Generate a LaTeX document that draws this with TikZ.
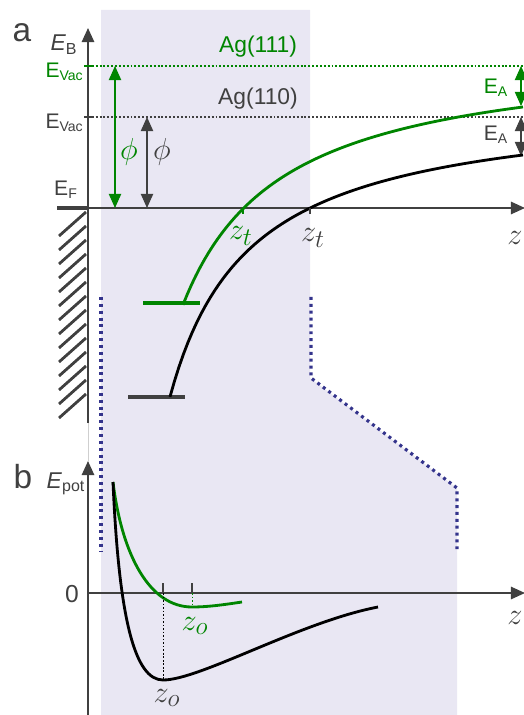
\documentclass[tikz,border=0pt]{standalone}
\usepackage{fontspec}
\setmainfont{Liberation Sans}
\setsansfont{Liberation Sans}
\usetikzlibrary{arrows.meta, positioning, calc}
\definecolor{agGreen}{RGB}{0,133,0}
\definecolor{agGrey}{RGB}{64,64,64}
\definecolor{agShade}{RGB}{233,231,243}
\definecolor{agDots}{RGB}{52,52,140}
\newcommand{\fsz}[1]{\fontsize{#1}{#1}\selectfont}

\begin{document}
\begin{tikzpicture}[x=0.02cm, y=-0.02cm, font=\sffamily,
  axis/.style={draw=agGrey, line width=1.1pt, -{Triangle[length=8pt,width=7pt]}},
  level/.style={draw=#1, line width=0.6pt, dash pattern=on 1.1pt off 1.1pt},
  dbl/.style={draw=#1, line width=0.6pt,
              {Triangle[length=8pt,width=7pt]}-{Triangle[length=8pt,width=7pt]}},
  lbl/.style={inner sep=0pt, text=#1},
  curve/.style={draw=#1, line width=1.6pt},
  bar/.style={draw=#1, line width=2.3pt},
  tick/.style={draw=#1, line width=0.8pt},
  cut/.style={draw=agDots, line width=1.8pt, dash pattern=on 1.7pt off 2.2pt}]
\useasboundingbox (0,0) rectangle (523,715);

% shaded region and cut lines
\fill[agShade] (101,10) -- (310,10) -- (310,378) -- (457,488) -- (457,715)
      -- (101,715) -- cycle;
\draw[cut] (101,297) -- (101,552);
\draw[cut] (311,297) -- (311,378) -- (457,488) -- (457,553);

% ---------- panel a ----------
\coordinate (aO)   at (88,208);
\coordinate (aTop) at (88,28);
\coordinate (aEnd) at (525,208);
\coordinate (aBot) at (88,423);
\coordinate (vacG) at (88,66);
\coordinate (vacK) at (88,117);

% metal wall
\foreach \k in {0,...,13}
  \draw[agGrey, line width=1.6pt] (59,236+14*\k) -- (86,212+14*\k);
\draw[agGrey, line width=2pt] (57,208) -- (aO);
\draw[axis] (aBot) -- (aTop);
\draw[axis] (aO) -- (aEnd);

% vacuum levels
\draw[level=agGreen] (vacG) -- (vacG -| aEnd);
\draw[level=agGrey] (vacK) -- (vacK -| aEnd);
\draw[tick=agGreen] ($(vacG)+(-4,0)$) -- ($(vacG)+(4,0)$);
\draw[tick=agGrey] ($(vacK)+(-4,0)$) -- ($(vacK)+(4,0)$);

% work functions
\coordinate (phiG) at (115,66);
\coordinate (phiK) at (147,117);
\draw[dbl=agGreen] (phiG) -- (phiG |- aO);
\draw[dbl=agGrey] (phiK) -- (phiK |- aO);
\node[lbl=agGreen, font=\fsz{18}] (lphiG) at (129,152) {$\phi$};
\node[lbl=agGrey, font=\fsz{18}] (lphiK) at (162,152) {$\phi$};

% electron affinities
\coordinate (eaG) at (521,66);
\coordinate (eaK) at (521,117);
\draw[dbl=agGreen] (eaG) -- (521,106);
\draw[dbl=agGrey] (eaK) -- (521,156);
\node[lbl=agGreen, font=\fsz{12}] (leaG) at (496,88) {E\textsubscript{A}};
\node[lbl=agGrey, font=\fsz{12}] (leaK) at (496,135) {E\textsubscript{A}};

% image potential curves
\coordinate (barG) at (183,303);
\coordinate (barK) at (170,397);
\draw[bar=agGreen] (143,303) -- (200,303);
\draw[bar=agGrey] (128,397) -- (185,397);
\draw[curve=agGreen] plot[domain=183:523, samples=80]
  (\x, {48.8 + 256/((\x-83)/100)});
\draw[curve=black] plot[domain=170:523, samples=80]
  (\x, {100.2 + 237.3/((\x-90)/100)});

% turning points
\coordinate (ztG) at (243,208);
\coordinate (ztK) at (310,208);
\draw[tick=agGreen] (ztG) -- ++(0,6);
\draw[tick=agGrey] (ztK) -- ++(0,6);
\node[lbl=agGreen, font=\fsz{19}] (lztG) at (241,236) {$z_t$};
\node[lbl=agGrey, font=\fsz{19}] (lztK) at (313,238) {$z_t$};

% labels
\node[lbl=agGrey, font=\fsz{19}] (la) at (22,33) {a};
\node[lbl=agGrey, font=\fsz{13}] (lEB) at (64,45) {\textit{E}\textsubscript{B}};
\node[lbl=agGreen, font=\fsz{12}, anchor=east] (lvacG) at (84,72) {E\textsubscript{Vac}};
\node[lbl=agGrey, font=\fsz{12}, anchor=east] (lvacK) at (84,123) {E\textsubscript{Vac}};
\node[lbl=agGrey, font=\fsz{12}] (lEF) at (66,190) {E\textsubscript{F}};
\node[lbl=agGreen, font=\fsz{13}] (lAg1) at (258,47) {Ag(111)};
\node[lbl=agGrey, font=\fsz{13}] (lAg0) at (258,99) {Ag(110)};
\node[lbl=agGrey, font=\fsz{19}, anchor=east] (lza) at (523,238) {$z$};

% ---------- panel b ----------
\coordinate (bO)   at (88,593);
\coordinate (bTop) at (88,461);
\coordinate (bBot) at (88,715);
\coordinate (bEnd) at (525,593);
\draw[agGrey!25, line width=0.4pt] (aBot) -- (bTop);
\draw[axis] (bBot) -- (bTop);
\draw[axis] (bO) -- (bEnd);

% adsorption potentials
\coordinate (zoK) at (163,680);
\coordinate (zoG) at (192,607);
\draw[curve=agGreen] (113,482) .. controls (122,556) and (150,607) .. (zoG)
  .. controls (210,607) and (228,604) .. (242,602);
\draw[curve=black] (113,482) .. controls (119,620) and (135,680) .. (zoK)
  .. controls (200,680) and (300,622) .. (378,607);

% equilibrium distances
\draw[tick=agGrey] (zoK |- bO) -- ++(0,-10);
\draw[tick=agGrey] (zoG |- bO) -- ++(0,-10);
\draw[black, line width=0.5pt, dash pattern=on 1pt off 1pt] (zoK |- bO) -- (zoK);
\draw[agGreen, line width=0.5pt, dash pattern=on 1pt off 1pt] (zoG |- bO) -- (zoG);
\node[lbl=agGreen, font=\fsz{19}] (lzoG) at (195,626) {$z_o$};
\node[lbl=agGrey, font=\fsz{19}] (lzoK) at (167,698) {$z_o$};

\node[lbl=agGrey, font=\fsz{19}] (lb) at (23,477) {b};
\node[lbl=agGrey, font=\fsz{13}] (lEpot) at (66,484) {\textit{E}\textsubscript{pot}};
\node[lbl=agGrey, font=\fsz{14}] (l0) at (72,594) {0};
\node[lbl=agGrey, font=\fsz{19}, anchor=east] (lzb) at (523,618) {$z$};
\end{tikzpicture}
\end{document}
